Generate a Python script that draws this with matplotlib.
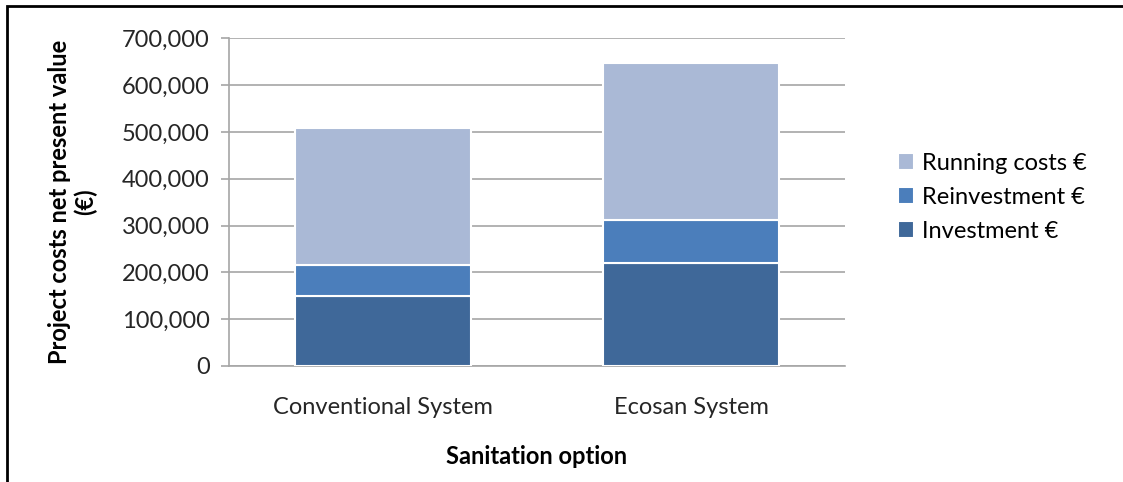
import numpy as np
import matplotlib.pyplot as plt
from matplotlib.patches import Rectangle
from matplotlib.ticker import FuncFormatter

categories = ["Conventional System", "Ecosan System"]
investment = [150000, 221000]
reinvestment = [65000, 90000]
running_costs = [293000, 336000]

series_names = ["Investment €", "Reinvestment €", "Running costs €"]
colors = ["#3F6899", "#4B7EBB", "#AAB9D6"]

plt.rcParams['font.family'] = ['Lato', 'DejaVu Sans']

fig = plt.figure(figsize=(11.23, 4.82), dpi=100)
ax = fig.add_axes([0.2039, 0.2407, 0.5485, 0.6798])

x = np.arange(len(categories))
bottom = np.zeros(len(categories))
for vals, name, col in zip([investment, reinvestment, running_costs], series_names, colors):
    ax.bar(x, vals, width=0.57, bottom=bottom, color=col, edgecolor="white",
           linewidth=1.5, label=name, zorder=3)
    bottom += np.array(vals)

ax.set_xlim(-0.5, 1.5)
ax.set_ylim(0, 700000)
ax.set_yticks(np.arange(0, 700001, 100000))
ax.yaxis.set_major_formatter(FuncFormatter(lambda v, p: f"{int(v):,}"))
ax.set_xticks(x)
ax.set_xticklabels(categories)

ax.grid(axis="y", color="#A6A6A6", linewidth=1.2, zorder=0)
for s in ["top", "right"]:
    ax.spines[s].set_visible(False)
for s in ["left", "bottom"]:
    ax.spines[s].set_color("#A6A6A6")
    ax.spines[s].set_linewidth(1.2)
ax.tick_params(axis="y", length=6, color="#A6A6A6", width=1.2, labelsize=17, pad=8,
               labelcolor="#262626")
ax.tick_params(axis="x", length=0, labelsize=17, pad=22, labelcolor="#262626")

ax.set_xlabel("Sanitation option", fontsize=17, fontweight="bold", labelpad=20)
ax.set_ylabel("Project costs net present value\n(€)", fontsize=17, fontweight="bold",
              linespacing=1.15)
ax.yaxis.set_label_coords(-0.214, 0.5)

handles, labels = ax.get_legend_handles_labels()
ax.legend(handles[::-1], labels[::-1], loc="center left", bbox_to_anchor=(1.07, 0.515),
          frameon=False, fontsize=17, handlelength=0.7, handleheight=0.7,
          handletextpad=0.35, labelspacing=0.56, borderaxespad=0)

# chart border (cropped at right and bottom)
fig.add_artist(Rectangle((7 / 1123, -0.1), 1.2, 1 - 6 / 482 + 0.1, transform=fig.transFigure,
                         fill=False, edgecolor="black", linewidth=2))

fig.savefig("out.png", dpi=100)
